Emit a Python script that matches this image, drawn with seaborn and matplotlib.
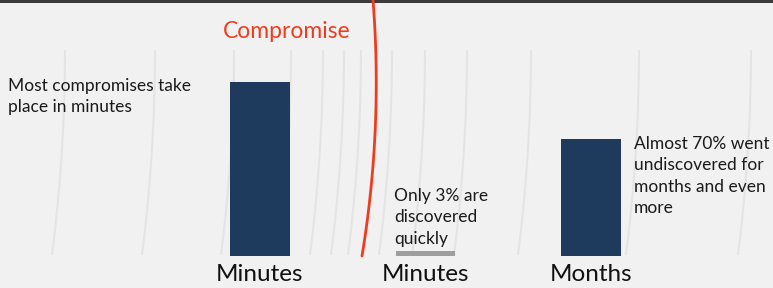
import numpy as np
import matplotlib
matplotlib.use("Agg")
import matplotlib.pyplot as plt
import seaborn as sns

# chart data
categories = ["Compromise", "Discovery (quick)", "Discovery (late)"]
tick_labels = ["Minutes", "Minutes", "Months"]
values = [100, 3, 67]
bar_colors = ["#1e3a5c", "#9e9e9e", "#1e3a5c"]

notes = ["Most compromises take\nplace in minutes",
         "Only 3% are\ndiscovered\nquickly",
         "Almost 70% went\nundiscovered for\nmonths and even\nmore"]

# faint background arcs (top x positions, px)
arc_tops = [65, 155, 234, 291, 323, 344, 361, 392, 425, 467, 531, 639, 751]

sns.set_theme(style="white")
plt.rcParams["font.family"] = ["Lato", "DejaVu Sans"]

W, H = 773, 288
fig = plt.figure(figsize=(W / 100, H / 100), dpi=100)
fig.patch.set_facecolor("#f1f1f1")

# background layer in pixel coords
bg = fig.add_axes([0, 0, 1, 1])
bg.set_xlim(0, W)
bg.set_ylim(H, 0)
bg.axis("off")
bg.add_patch(plt.Rectangle((0, 0), W, 3, color="#3c3c3c", lw=0))

yy = np.linspace(50, 255, 60)
for x0 in arc_tops:
    bg.plot(x0 - 13 * ((yy - 50) / 205) ** 2, yy, color="#e4e4e4", lw=1.5,
            solid_capstyle="butt")

# compromise marker
ry = np.linspace(0, 256, 80)
red_x = np.polyval(np.polyfit([0, 60, 256], [373, 376, 362], 2), ry)
bg.plot(red_x, ry, color="#f03c1e", lw=2)
bg.text(287, 32, "Compromise", color="#f03c1e", fontsize=16.5,
        ha="center", va="center")

# bars
ax = fig.add_axes([0, 32 / H, 1, 256 / H])
ax.patch.set_alpha(0)
sns.barplot(x=categories, y=values, hue=categories,
            palette=dict(zip(categories, bar_colors)),
            width=0.357, saturation=1, legend=False, linewidth=0, ax=ax)
ax.set_xlim(-260 / 165.5, (W - 260) / 165.5)
ax.set_ylim(0, 256 / 174 * 100)
ax.set_xticks(range(len(tick_labels)))
ax.set_xticklabels(tick_labels, fontsize=17.5, color="#111111")
ax.tick_params(axis="x", length=0, pad=6)
ax.set_yticks([])
ax.set_xlabel("")
ax.set_ylabel("")
sns.despine(ax=ax, left=True, bottom=True)

# annotations
txt = dict(fontsize=12.5, color="#1a1a1a", va="top", ha="left", linespacing=1.42)
bg.text(8, 78, notes[0], **txt)
bg.text(394, 188, notes[1], **txt)
bg.text(634, 136, notes[2], **txt)

fig.savefig("out.png", dpi=100, facecolor=fig.get_facecolor())
